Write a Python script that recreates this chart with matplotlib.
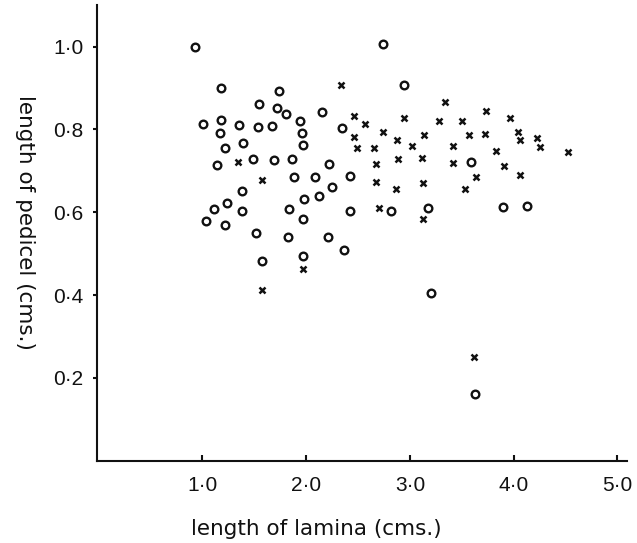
import numpy as np
import matplotlib
matplotlib.use('Agg')
import matplotlib.pyplot as plt

plt.rcParams['font.family'] = ['Liberation Sans', 'DejaVu Sans']

# circles (o) - lamina length vs pedicel length
lamina_o = [0.93, 1.18, 1.74, 1.545, 1.72, 1.81, 1.01, 1.18, 1.35, 1.54, 1.67, 1.17,
            1.39, 1.22, 1.14, 1.49, 1.69, 1.86, 1.38, 1.235, 1.11, 1.38, 1.04, 1.22,
            1.52, 1.83, 1.58, 2.74, 2.94, 2.15, 1.94, 1.96, 1.97, 2.22, 2.35, 1.885,
            2.09, 2.42, 2.25, 2.125, 1.98, 1.84, 1.975, 2.42, 2.82, 3.17, 2.21, 2.365,
            1.97, 3.20, 3.59, 3.90, 4.13, 3.63]
pedicel_o = [1.00, 0.90, 0.893, 0.861, 0.852, 0.836, 0.814, 0.822, 0.81, 0.806, 0.808, 0.791,
             0.766, 0.756, 0.713, 0.728, 0.725, 0.729, 0.652, 0.623, 0.608, 0.603, 0.578, 0.57,
             0.55, 0.54, 0.483, 1.006, 0.908, 0.842, 0.819, 0.791, 0.762, 0.717, 0.804, 0.686,
             0.684, 0.688, 0.66, 0.639, 0.632, 0.607, 0.584, 0.604, 0.603, 0.609, 0.541, 0.509,
             0.493, 0.406, 0.72, 0.612, 0.614, 0.161]

# crosses (x)
lamina_x = [1.34, 1.574, 1.58, 2.34, 2.46, 2.57, 2.46, 2.49, 2.65, 2.74, 2.88, 2.94,
            3.02, 3.14, 3.34, 3.28, 3.50, 3.565, 3.42, 2.67, 2.89, 3.12, 3.42, 3.64,
            2.67, 2.87, 3.13, 3.53, 2.70, 3.13, 1.97, 3.73, 3.96, 3.725, 4.04, 4.06,
            4.22, 4.25, 4.52, 3.83, 3.91, 4.06, 3.615]
pedicel_x = [0.72, 0.678, 0.411, 0.907, 0.832, 0.813, 0.782, 0.755, 0.754, 0.794, 0.775, 0.827,
             0.76, 0.786, 0.866, 0.82, 0.82, 0.786, 0.76, 0.717, 0.729, 0.732, 0.718, 0.684,
             0.672, 0.656, 0.671, 0.655, 0.61, 0.583, 0.464, 0.845, 0.828, 0.789, 0.793, 0.774,
             0.78, 0.757, 0.746, 0.747, 0.712, 0.69, 0.251]

xticks = [1.0, 2.0, 3.0, 4.0, 5.0]
yticks = [0.2, 0.4, 0.6, 0.8, 1.0]

fig = plt.figure(figsize=(6.37, 5.43), dpi=100)
ax = fig.add_axes([0.153, 0.1516, 0.831, 0.839])

ax.plot(lamina_o, pedicel_o, linestyle='none', marker='o', markersize=5.5,
        markerfacecolor='none', markeredgecolor='#111111', markeredgewidth=1.7)
ax.plot(lamina_x, pedicel_x, linestyle='none', marker='x', markersize=5,
        color='#111111', markeredgewidth=1.8)

ax.set_xlim(-0.01, 5.09)
ax.set_ylim(0.0, 1.1)

for s in ['top', 'right']:
    ax.spines[s].set_visible(False)
for s in ['left', 'bottom']:
    ax.spines[s].set_linewidth(1.5)
    ax.spines[s].set_color('#111111')

ax.set_xticks(xticks)
ax.set_xticklabels([f'{v:.1f}'.replace('.', '·') for v in xticks])
ax.set_yticks(yticks)
ax.set_yticklabels([f'{v:.1f}'.replace('.', '·') for v in yticks])
ax.tick_params(axis='x', direction='in', length=4, width=1.5, pad=11,
               labelsize=15, colors='#111111')
ax.tick_params(axis='y', direction='out', length=3, width=1.5, pad=7,
               labelsize=15, colors='#111111')

fig.text(0.496, 0.026, 'length of lamina (cms.)', ha='center', va='center',
         fontsize=15.5, color='#111111', family='DejaVu Sans')
fig.text(0.039, 0.591, 'length of pedicel (cms.)', ha='center', va='center',
         rotation=270, fontsize=15.5, color='#111111', family='DejaVu Sans')

fig.savefig('out.png', dpi=100)
